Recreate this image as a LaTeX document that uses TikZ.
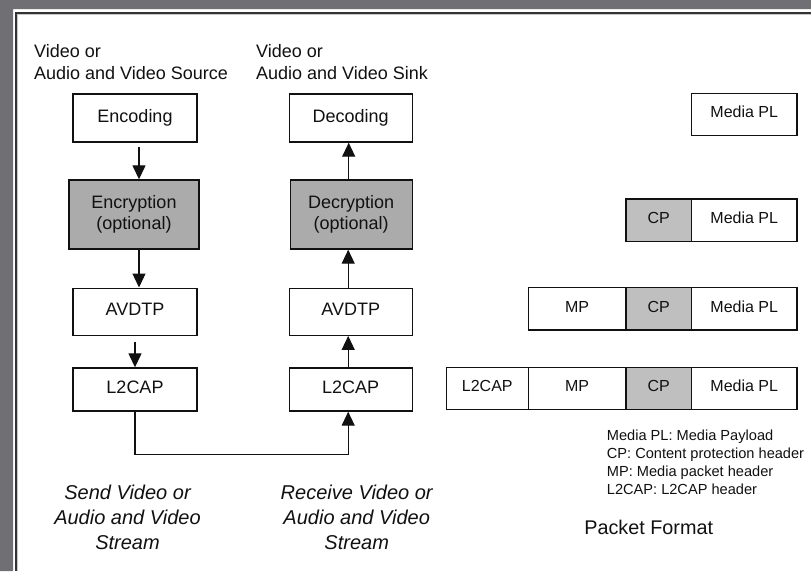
\documentclass[tikz,border=0pt]{standalone}
\usepackage{fontspec}
\setmainfont{Liberation Sans}
\usetikzlibrary{arrows.meta}
\definecolor{framegray}{HTML}{707074}
\definecolor{boxgray}{HTML}{ABABAB}
\definecolor{cpgray}{HTML}{BFBFBF}
\definecolor{ink}{HTML}{111111}
\begin{document}
\begin{tikzpicture}[x=1pt,y=-1pt,
  box/.style={draw=ink, line width=1.4pt, inner sep=0pt, text=ink,
    font=\fontsize{18}{21.6}\selectfont, text height=13pt, text depth=5pt},
  twobox/.style={draw=ink, line width=1.4pt, inner sep=0pt, text=ink, fill=boxgray,
    font=\fontsize{18}{21.6}\selectfont, align=center},
  pbox/.style={draw=ink, line width=1.4pt, inner sep=0pt, text=ink,
    font=\fontsize{16}{19}\selectfont, text height=11.6pt, text depth=5pt},
  arr/.style={draw=ink, line width=1.3pt, -{Triangle[width=13pt,length=14pt]}},
  lbl/.style={inner sep=0pt, text=ink, font=\fontsize{18}{22}\selectfont, align=left},
  ilbl/.style={inner sep=0pt, text=ink, font=\fontsize{20}{25}\selectfont\itshape, align=center},
  leg/.style={inner sep=0pt, text=ink, font=\fontsize{14.6}{18}\selectfont, align=left}]
\useasboundingbox (0,0) rectangle (811,571);
% frame
\fill[white] (13,9) rectangle (811,571);
\fill[framegray] (0,0) -- (811,0) -- (811,9) -- (13,9) -- (13,571) -- (0,571) -- cycle;
\draw[line width=2pt, draw=black!80] (15.5,571) -- (15.5,12.5) -- (811,12.5);
\draw[line width=1pt, draw=black!22] (17.5,571) -- (17.5,14.5) -- (811,14.5);

% headings
\node[lbl, anchor=north west] (srcl) at (34,43.9) {Video or\\Audio and Video Source};
\node[lbl, anchor=north west] (sinkl) at (256,43.9) {Video or\\Audio and Video Sink};

% left column
\node[box, minimum width=124pt, minimum height=48pt] (enc) at (135,118) {Encoding};
\node[twobox, minimum width=130pt, minimum height=69pt] (encr) at (134,214.5) {Encryption\\(optional)};
\node[box, minimum width=124pt, minimum height=47pt] (avl) at (135,311.7) {AVDTP};
\node[box, minimum width=124pt, minimum height=43pt] (l2l) at (135,389.5) {L2CAP};

% right column
\node[box, minimum width=123pt, minimum height=48pt] (dec) at (350.7,118) {Decoding};
\node[twobox, minimum width=122pt, minimum height=69pt] (decr) at (351.2,214.5) {Decryption\\(optional)};
\node[box, minimum width=123pt, minimum height=47pt] (avr) at (350.7,311.7) {AVDTP};
\node[box, minimum width=123pt, minimum height=43pt] (l2r) at (350.7,389.5) {L2CAP};

% arrows
\draw[arr, shorten <=4pt] ([xshift=4pt]enc.south) -- ([xshift=4pt]enc.south |- encr.north);
\draw[arr] ([xshift=5pt]encr.south) -- ([xshift=5pt]encr.south |- avl.north);
\draw[arr, shorten <=6pt] (avl.south) -- (l2l.north);
\draw[arr] ([xshift=-2.5pt]decr.north) -- ([xshift=-2.5pt]decr.north |- dec.south);
\draw[arr] ([xshift=-2.5pt]avr.north) -- ([xshift=-2.5pt]avr.north |- decr.south);
\draw[arr] ([xshift=-2.5pt]l2r.north) -- ([xshift=-2.5pt]l2r.north |- avr.south);
\draw[arr] (l2l.south) -- ++(0,43) -| ([xshift=-2.5pt]l2r.south);

% bottom captions
\node[ilbl, anchor=north] (sendl) at (127.5,484.7) {Send Video or\\Audio and Video\\Stream};
\node[ilbl, anchor=north] (recvl) at (356.7,484.7) {Receive Video or\\Audio and Video\\Stream};

% packet format
\node[pbox, minimum width=105.5pt, minimum height=42pt] (pl1) at (744.25,114.3) {Media PL};

\node[pbox, fill=cpgray, minimum width=65.5pt, minimum height=42.7pt] (cp2) at (658.75,220.3) {CP};
\node[pbox, minimum width=105.5pt, minimum height=42.7pt] (pl2) at (744.25,220.3) {Media PL};

\node[pbox, minimum width=97.7pt, minimum height=42.7pt] (mp3) at (577.15,308.7) {MP};
\node[pbox, fill=cpgray, minimum width=65.5pt, minimum height=42.7pt] (cp3) at (658.75,308.7) {CP};
\node[pbox, minimum width=105.5pt, minimum height=42.7pt] (pl3) at (744.25,308.7) {Media PL};

\node[pbox, minimum width=82pt, minimum height=42pt] (l24) at (487.3,388.3) {L2CAP};
\node[pbox, minimum width=97.7pt, minimum height=42pt] (mp4) at (577.15,388.3) {MP};
\node[pbox, fill=cpgray, minimum width=65.5pt, minimum height=42pt] (cp4) at (658.75,388.3) {CP};
\node[pbox, minimum width=105.5pt, minimum height=42pt] (pl4) at (744.25,388.3) {Media PL};

\node[leg, anchor=north west] (legend) at (606.7,430) {Media PL: Media Payload\\CP: Content protection header\\MP: Media packet header\\L2CAP: L2CAP header};
\node[inner sep=0pt, text=ink, font=\fontsize{19.8}{24}\selectfont, anchor=north] (pfl) at (648.7,519.5) {Packet Format};
\end{tikzpicture}
\end{document}
